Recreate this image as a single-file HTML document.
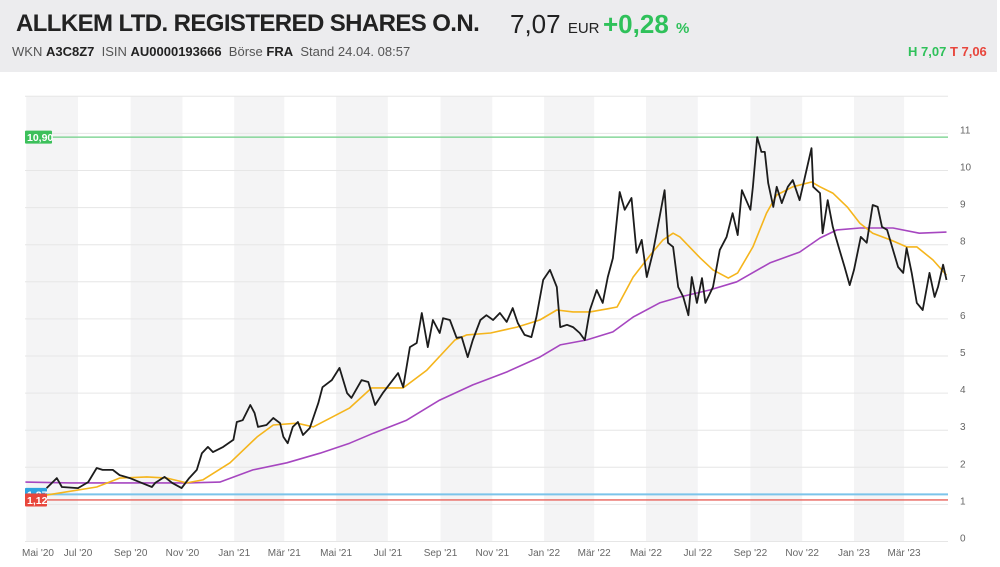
<!DOCTYPE html>
<html><head><meta charset="utf-8"><style>
body{margin:0;width:1000px;height:567px;background:#fff;font-family:"Liberation Sans",sans-serif;overflow:hidden;position:relative}
#hdr{position:absolute;left:0;top:0;width:997px;height:72px;background:#ececee}
.t{position:absolute;white-space:nowrap}
</style></head><body>
<div id="hdr">
 <div class="t" style="left:16px;top:10px;font-size:24px;font-weight:bold;color:#222;letter-spacing:-0.6px">ALLKEM LTD. REGISTERED SHARES O.N.</div>
 <div class="t" style="left:510px;top:9px;font-size:26px;color:#222">7,07 <span style="font-size:15px">EUR</span></div>
 <div class="t" style="left:603px;top:9px;font-size:26px;font-weight:bold;color:#2fc15a">+0,28 <span style="font-size:15px">%</span></div>
 <div class="t" style="left:12px;top:44px;font-size:13px;color:#555">WKN <b style="color:#222">A3C8Z7</b> &nbsp;ISIN <b style="color:#222">AU0000193666</b> &nbsp;Börse <b style="color:#222">FRA</b> &nbsp;Stand 24.04. 08:57</div>
 <div class="t" style="left:908px;top:44px;font-size:13px;font-weight:bold"><span style="color:#2fc15a">H 7,07</span> <span style="color:#e8463c">T 7,06</span></div>
</div>
<svg id="chart" width="1000" height="567" style="position:absolute;left:0;top:0"></svg>
<script>
const priceDays=[24,36,42,61,73,83,90,102,110,122,136,148,152,163,172,183,192,201,207,214,220,232,244,248,255,264,269,273,283,291,299,303,308,314,320,326,334,344,349,360,369,378,383,395,403,411,420,429,438,444,452,460,466,473,479,487,491,499,507,513,520,526,535,542,550,558,566,573,579,587,595,601,609,617,625,629,637,644,652,658,664,672,679,685,691,699,705,713,719,725,731,738,746,752,756,762,768,774,780,784,790,796,800,809,817,825,832,838,843,848,853,856,861,866,870,874,880,884,890,897,903,911,919,925,927,935,938,944,950,958,964,970,975,983,990,997,1003,1008,1014,1021,1027,1033,1037,1043,1049,1056,1064,1070,1074,1080,1084];
const priceValues=[1.44,1.71,1.47,1.44,1.6,1.98,1.93,1.93,1.79,1.71,1.58,1.47,1.58,1.74,1.58,1.44,1.71,1.93,2.38,2.55,2.41,2.55,2.74,3.22,3.27,3.68,3.46,3.09,3.14,3.33,3.19,2.82,2.65,3.09,3.22,2.87,3.06,3.73,4.16,4.35,4.68,4.0,3.87,4.35,4.3,3.68,4.0,4.27,4.54,4.16,5.24,5.35,6.16,5.24,5.97,5.62,6.02,5.97,5.49,5.51,4.97,5.43,5.97,6.1,5.97,6.16,5.92,6.29,5.89,5.57,5.51,6.05,7.05,7.32,6.86,5.78,5.84,5.78,5.62,5.43,6.24,6.78,6.43,7.13,7.64,9.42,8.94,9.26,7.78,8.13,7.13,7.78,8.75,9.47,8.05,7.94,6.86,6.59,6.1,7.13,6.43,7.1,6.43,6.86,7.86,8.21,8.85,8.26,9.47,9.2,8.94,9.56,10.9,10.5,10.5,9.66,9.02,9.56,9.12,9.56,9.74,9.2,10.0,10.6,9.56,9.39,8.31,9.2,8.48,7.86,7.4,6.91,7.32,8.21,8.05,9.07,9.02,8.48,8.4,7.86,7.4,7.24,7.91,7.24,6.43,6.24,7.24,6.59,6.86,7.46,7.05];
const ma38Days=[24,83,110,142,166,189,208,240,272,291,319,338,361,381,407,444,472,505,519,547,578,605,625,644,664,684,696,715,735,750,762,770,794,809,827,838,856,872,884,903,925,935,950,967,982,997,1018,1037,1049,1068,1084];
const ma38Values=[1.25,1.47,1.71,1.74,1.71,1.58,1.66,2.12,2.82,3.14,3.19,3.09,3.36,3.6,4.14,4.14,4.62,5.43,5.57,5.62,5.78,5.97,6.24,6.19,6.19,6.27,6.32,7.13,7.72,8.13,8.31,8.21,7.64,7.32,7.1,7.24,7.94,8.85,9.34,9.56,9.69,9.56,9.39,9.02,8.58,8.31,8.13,7.94,7.94,7.59,7.18];
const ma200Days=[-1,52,189,228,267,307,346,381,409,448,487,526,566,605,629,660,691,715,746,770,805,837,876,911,935,955,982,1021,1052,1084];
const ma200Values=[1.6,1.58,1.58,1.6,1.93,2.12,2.38,2.65,2.92,3.27,3.81,4.22,4.57,4.97,5.3,5.43,5.65,6.05,6.43,6.59,6.78,7.0,7.51,7.8,8.18,8.4,8.45,8.45,8.31,8.34];
const yTicks=[0,1,2,3,4,5,6,7,8,9,10,11,12];
const monthLabels=["Mai '20","Jul '20","Sep '20","Nov '20","Jan '21","Mär '21","Mai '21","Jul '21","Sep '21","Nov '21","Jan '22","Mär '22","Mai '22","Jul '22","Sep '22","Nov '22","Jan '23","Mär '23"];
const monthDays=[0,61,123,184,245,304,365,426,488,549,610,669,730,791,853,914,975,1034];
const highLevel=10.90, blueLevel=1.27, lowLevel=1.12;

const NS="http://www.w3.org/2000/svg";
const svg=document.getElementById('chart');
const X0=25,X1=948;
const xs=d=>26.2+d*0.849;
const ys=v=>541.5-v*37.1;
function mk(tag,attrs,parent){const e=document.createElementNS(NS,tag);for(const k in attrs)e.setAttribute(k,attrs[k]);(parent||svg).appendChild(e);return e;}
for(let i=0;i<monthDays.length;i+=2){
  const a=Math.max(X0,xs(monthDays[i])); const b=i+1<monthDays.length?xs(monthDays[i+1]):X1;
  const r=mk('rect',{x:a,y:96,width:b-a,height:446,fill:'#f4f4f5'});
  
  
}
yTicks.forEach(v=>{
  const l=mk('line',{x1:X0,x2:X1,y1:ys(v),y2:ys(v),stroke:'#e6e6e6','stroke-width':1});
  
  
  if(v<12){const t=mk('text',{x:960,y:ys(v)-0,'font-size':10,fill:'#666'});t.textContent=v;
  
  }
});
monthLabels.forEach((s,i)=>{
  const t=mk('text',{x:Math.max(38,xs(monthDays[i])),y:556,'font-size':10,fill:'#666','text-anchor':'middle'});t.textContent=s;
  
  
});
[[highLevel,'#6fcf86'],[blueLevel,'#7cc4ea'],[lowLevel,'#e8625a']].forEach(([v,c],i)=>{
  const l=mk('line',{x1:X0,x2:X1,y1:ys(v),y2:ys(v),stroke:c,'stroke-width':i==1?2:1.3});
  
  
});
function poly(days,vals,color,w,name){
  const n=Math.min(days.length,vals.length);let d='';
  for(let i=0;i<n;i++)d+=(i?'L':'M')+Math.max(X0,xs(days[i])).toFixed(1)+','+ys(vals[i]).toFixed(1);
  const p=mk('path',{d:d,fill:'none',stroke:color,'stroke-width':w,'stroke-linejoin':'round'});
  
  
}
poly(ma200Days,ma200Values,'#a646c0',1.6,'ma200-line');
poly(ma38Days,ma38Values,'#f5b51c',1.6,'ma38-line');
poly(priceDays,priceValues,'#1c1c1c',1.8,'price-line');
function tag(v,txt,bg,w){
  const g=mk('g',{});
  
  
  mk('rect',{x:25,y:ys(v)-6.5,width:w,height:13,fill:bg,rx:1},g);
  const t=mk('text',{x:27,y:ys(v)+4,'font-size':10.5,'font-weight':'bold',fill:'#fff'},g);t.textContent=txt;
}
tag(highLevel,'10,90','#3cc05b',27);
tag(blueLevel,'1,27','#2fa3e0',22);
tag(lowLevel,'1,12','#e8463c',22);
</script>
</body></html>
